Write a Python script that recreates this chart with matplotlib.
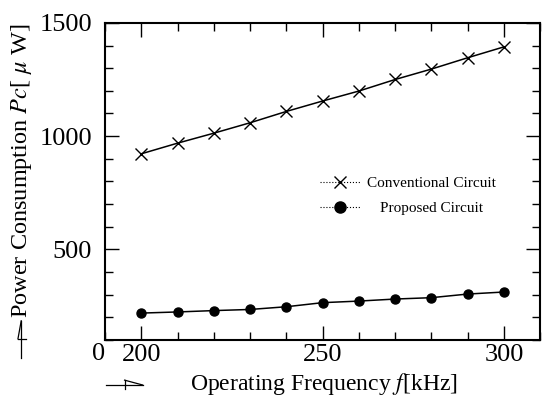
#!/usr/bin/env python3
"""Power consumption of conventional vs proposed circuit over operating frequency."""

import matplotlib
matplotlib.use("Agg")
import matplotlib.pyplot as plt
from matplotlib.lines import Line2D
from matplotlib.ticker import MultipleLocator

freq_khz = [200, 210, 220, 230, 240, 250, 260, 270, 280, 290, 300]
conventional_uw = [922, 969, 1013, 1059, 1109, 1155, 1199, 1250, 1296, 1346, 1394]
proposed_uw = [219, 224, 230, 235, 247, 265, 272, 281, 287, 303, 312]

x_ticks = [200, 250, 300]
y_ticks = [500, 1000, 1500]

plt.rcParams["font.family"] = ["Liberation Serif", "DejaVu Serif"]
plt.rcParams["mathtext.fontset"] = "stix"

fig = plt.figure(figsize=(5.44, 4.01), dpi=100)
ax = fig.add_axes([0.193, 0.152, 0.800, 0.791])

ax.plot(freq_khz, conventional_uw, color="black", lw=1.1, marker="x",
        ms=8, mew=1.0)
ax.plot(freq_khz, proposed_uw, color="black", lw=1.1, marker="o",
        ms=6.5)

ax.set_xlim(190, 310)
ax.set_ylim(100, 1500)
ax.set_xticks(x_ticks)
ax.set_yticks(y_ticks)
ax.xaxis.set_minor_locator(MultipleLocator(10))
ax.yaxis.set_minor_locator(MultipleLocator(100))
ax.tick_params(which="both", direction="in", top=True, right=True,
               width=1.0, labelsize=19)
ax.tick_params(which="major", length=10)
ax.tick_params(which="minor", length=6)
ax.tick_params(axis="y", pad=9.5)
ax.tick_params(axis="x", pad=3)
for sp in ax.spines.values():
    sp.set_linewidth(1.5)

# stray origin label in the corner
fig.text(0.181, 0.118, "0", fontsize=19, ha="center", va="center")

# axis labels with the little arrow marks
fig.text(0.596, 0.042, "Operating Frequency $f$[kHz]", fontsize=17,
         ha="center", va="center")
fig.text(0.040, 0.575, r"Power Consumption $Pc$[ $\mu$ W]", fontsize=17.5,
         rotation=90, ha="center", va="center")

fig.add_artist(Line2D([0.195, 0.262], [0.040, 0.040], color="black", lw=0.9))
fig.add_artist(Line2D([0.229, 0.229], [0.030, 0.052], color="black", lw=0.9))
fig.add_artist(Line2D([0.229, 0.262], [0.052, 0.040], color="black", lw=0.9))
fig.add_artist(Line2D([0.039, 0.039], [0.107, 0.200], color="black", lw=0.9))
fig.add_artist(Line2D([0.039, 0.033], [0.200, 0.155], color="black", lw=0.9))
fig.add_artist(Line2D([0.033, 0.047], [0.155, 0.155], color="black", lw=0.9))

h_conv = Line2D([], [], color="black", ls=":", lw=0.8, marker="x", ms=9,
                mew=1.0)
h_prop = Line2D([], [], color="black", ls=":", lw=0.8, marker="o", ms=8)

leg1 = ax.legend([h_conv], ["Conventional Circuit"], loc="center left",
                 bbox_to_anchor=(0.494, 0.495), frameon=False, fontsize=11,
                 handlelength=2.6, handletextpad=0.5, borderpad=0,
                 borderaxespad=0)
ax.add_artist(leg1)
ax.legend([h_prop], ["Proposed Circuit"], loc="center left",
          bbox_to_anchor=(0.494, 0.416), frameon=False, fontsize=11,
          handlelength=2.6, handletextpad=1.3, borderpad=0, borderaxespad=0)

fig.savefig("out.png", dpi=100)
